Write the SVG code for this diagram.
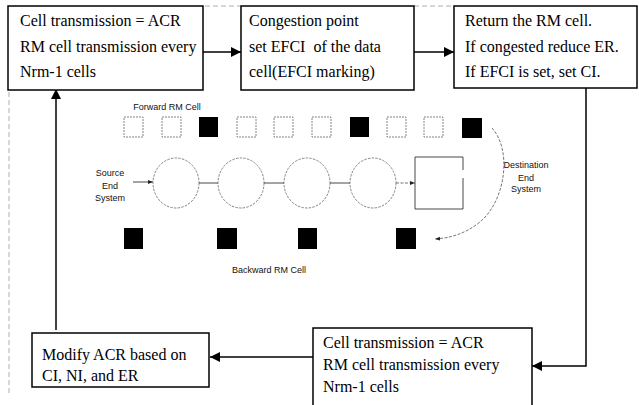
<svg xmlns="http://www.w3.org/2000/svg" width="639" height="405" viewBox="0 0 639 405">
  <style>
    .box { fill: #fff; stroke: #000; stroke-width: 1.5; }
    .t { font-family: "Liberation Serif", "Times New Roman", serif; font-size: 16px; fill: #000; }
    .s { font-family: "Liberation Sans", Arial, sans-serif; font-size: 9px; fill: #111; }
    .conn { fill: none; stroke: #000; stroke-width: 1.5; }
    .thin { fill: none; stroke: #333; stroke-width: 0.9; }
    .dash { fill: none; stroke: #666; stroke-width: 0.9; stroke-dasharray: 3 1.5; }
    .cellw { fill: #fff; stroke: #777; stroke-width: 0.9; stroke-dasharray: 2 1; }
    .cellb { fill: #000; }
    .ring { fill: none; stroke: #777; stroke-width: 0.9; stroke-dasharray: 2.5 1.2; }
    .frame { fill: none; stroke: #999; stroke-width: 0.8; stroke-dasharray: 5 3; }
  </style>
  <defs>
    <marker id="head" viewBox="0 0 10 10" refX="10" refY="5" markerWidth="10" markerHeight="10" markerUnits="userSpaceOnUse" orient="auto">
      <path d="M0,0 L10,5 L0,10 Z" fill="#000"/>
    </marker>
    <marker id="small" viewBox="0 0 10 10" refX="10" refY="5" markerWidth="5" markerHeight="5" markerUnits="userSpaceOnUse" orient="auto">
      <path d="M0,1 L10,5 L0,9 Z" fill="#222"/>
    </marker>
  </defs>

  <rect width="639" height="405" fill="#fff"/>

  <!-- faint outer frame -->
  <path class="frame" d="M9,92 V396 M205,6 H241 M414,6 H454"/>

  <!-- flow connectors -->
  <g id="connectors">
    <path class="conn" d="M203,52 H241" marker-end="url(#head)"/>
    <path class="conn" d="M414,52 H454" marker-end="url(#head)"/>
    <path class="conn" d="M586,88 V366 H532" marker-end="url(#head)"/>
    <path class="conn" d="M313,357 H210" marker-end="url(#head)"/>
    <path class="conn" d="M56,330 V89" marker-end="url(#head)"/>
  </g>

  <g id="source-tx">
    <rect class="box" x="8" y="6" width="195" height="84"/>
    <text class="t" x="20" y="26">Cell transmission = ACR</text>
    <text class="t" x="20" y="52">RM cell transmission every</text>
    <text class="t" x="20" y="77">Nrm-1 cells</text>
  </g>

  <g id="congestion-point">
    <rect class="box" x="241" y="6" width="173" height="84"/>
    <text class="t" x="249" y="26">Congestion point</text>
    <text class="t" x="249" y="52" xml:space="preserve">set EFCI  of the data</text>
    <text class="t" x="249" y="77">cell(EFCI marking)</text>
  </g>

  <g id="destination">
    <rect class="box" x="454" y="6" width="183" height="82"/>
    <text class="t" x="465" y="26">Return the RM cell.</text>
    <text class="t" x="465" y="52">If congested reduce ER.</text>
    <text class="t" x="465" y="77">If EFCI is set, set CI.</text>
  </g>

  <g id="dest-tx">
    <rect class="box" x="313" y="328" width="219" height="90"/>
    <text class="t" x="323" y="348">Cell transmission = ACR</text>
    <text class="t" x="323" y="370">RM cell transmission every</text>
    <text class="t" x="323" y="392">Nrm-1 cells</text>
  </g>

  <g id="modify-acr">
    <rect class="box" x="32" y="333" width="177" height="54"/>
    <text class="t" x="42" y="360">Modify ACR based on</text>
    <text class="t" x="42" y="381">CI, NI, and ER</text>
  </g>

  <!-- network sketch: forward cells, switches, backward cells -->
  <g id="network">
    <text class="s" x="167" y="110" text-anchor="middle">Forward RM Cell</text>
    <rect class="cellw" x="124" y="117" width="19" height="20"/>
    <rect class="cellw" x="162" y="117" width="19" height="20"/>
    <rect class="cellb" x="199" y="117" width="19" height="20"/>
    <rect class="cellw" x="237" y="117" width="19" height="20"/>
    <rect class="cellw" x="274" y="117" width="19" height="20"/>
    <rect class="cellw" x="312" y="117" width="19" height="20"/>
    <rect class="cellb" x="350" y="117" width="19" height="20"/>
    <rect class="cellw" x="387" y="117" width="19" height="20"/>
    <rect class="cellw" x="424" y="117" width="19" height="20"/>
    <rect class="cellb" x="462" y="118" width="20" height="20"/>

    <text class="s" text-anchor="middle"><tspan x="110" y="176">Source</tspan><tspan x="110" y="189">End</tspan><tspan x="110" y="201">System</tspan></text>
    <path class="thin" d="M133,182 H153" marker-end="url(#small)"/>

    <ellipse class="ring" cx="176" cy="183" rx="23" ry="25"/>
    <ellipse class="ring" cx="241" cy="183" rx="23" ry="25"/>
    <ellipse class="ring" cx="307" cy="183" rx="23" ry="25"/>
    <ellipse class="ring" cx="373" cy="183" rx="23" ry="25"/>
    <path class="thin" d="M199,183 H218 M264,183 H284 M330,183 H350"/>
    <path class="dash" d="M396,183 H415" marker-end="url(#small)"/>

    <path class="thin" stroke="#888" d="M463,178 V209 H415 V157 H463 V170"/>

    <text class="s" text-anchor="middle"><tspan x="526" y="168">Destination</tspan><tspan x="526" y="181">End</tspan><tspan x="526" y="192">System</tspan></text>
    <path class="dash" d="M492,128 C512,150 506,200 480,222 C465,234 450,238 435,239" marker-end="url(#small)"/>

    <rect class="cellb" x="124" y="228" width="19" height="21"/>
    <rect class="cellb" x="217" y="228" width="20" height="21"/>
    <rect class="cellb" x="298" y="228" width="19" height="21"/>
    <rect class="cellb" x="396" y="228" width="20" height="21"/>
    <text class="s" x="269" y="273" text-anchor="middle">Backward RM Cell</text>
  </g>
</svg>
